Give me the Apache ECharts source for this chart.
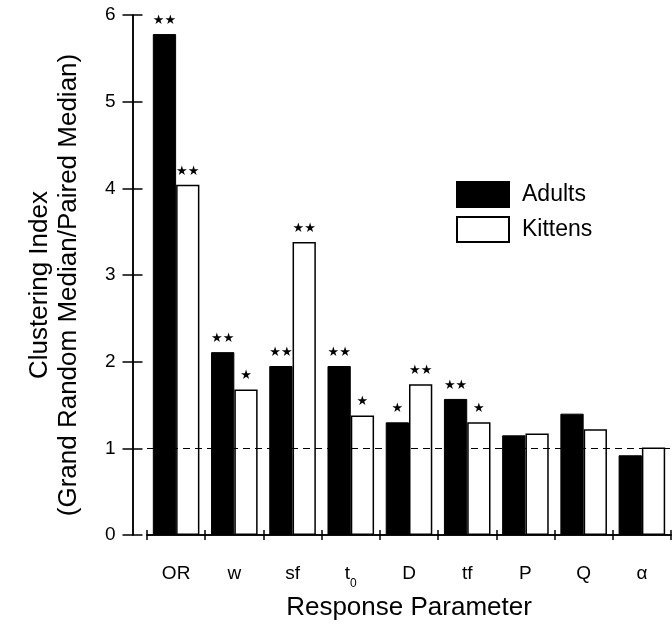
<!DOCTYPE html>
<html>
<head>
<meta charset="utf-8">
<script src="https://cdn.jsdelivr.net/npm/echarts@6/dist/echarts.min.js"></script>
<style>html,body{margin:0;padding:0;background:#fff;}#chart{width:672px;height:631px;}</style>
</head>
<body>
<div id="chart"></div>
<script>
const categories = ['OR', 'w', 'sf', 't0', 'D', 'tf', 'P', 'Q', 'α'];
const adults = [5.78, 2.11, 1.95, 1.95, 1.30, 1.57, 1.15, 1.40, 0.92];
const kittens = [4.04, 1.68, 3.38, 1.38, 1.74, 1.30, 1.17, 1.22, 1.01];
const adultSig = ['**', '**', '**', '**', '*', '**', '', '', ''];
const kittenSig = ['**', '*', '**', '*', '**', '*', '', '', ''];
const yTicks = [0, 1, 2, 3, 4, 5, 6];
const referenceLevel = 1;

const FONT = '"Liberation Sans", Arial, Helvetica, sans-serif';
const starLabel = (sig) => (p) => sig[p.dataIndex].replace(/\*/g, '★');

const chart = echarts.init(document.getElementById('chart'), null, {renderer: 'canvas'});
const yAxisBase = {
  type: 'value', min: yTicks[0], max: yTicks[yTicks.length - 1], interval: 1,
  position: 'left', offset: 14.5,
  splitLine: {show: false},
  axisLine: {show: true, lineStyle: {color: '#000', width: 1.5}},
};
const xAxisBase = {
  type: 'category', data: categories, boundaryGap: true, position: 'bottom',
  splitLine: {show: false},
};
chart.setOption({
  animation: false,
  backgroundColor: '#fff',
  textStyle: {fontFamily: FONT, color: '#000'},
  grid: {left: 147, right: 1, top: 15, bottom: 96, containLabel: false},
  legend: {
    left: 456, top: 181, padding: 0, orient: 'vertical', itemWidth: 52, itemHeight: 25, itemGap: 8,
    icon: 'rect',
    textStyle: {fontFamily: FONT, fontSize: 23, color: '#000', padding: [0, 0, 0, 8]},
    data: ['Adults', 'Kittens']
  },
  xAxis: [
    Object.assign({}, xAxisBase, {
      offset: 14.5,
      axisLine: {show: true, lineStyle: {color: '#000', width: 1.5}},
      axisTick: {show: true, interval: 0, inside: false, length: 5, lineStyle: {color: '#000', width: 1.5}},
      axisLabel: {
        show: true, interval: 0, margin: 18, fontSize: 19, fontFamily: FONT, color: '#000',
        formatter: (v) => v === 't0' ? '{m|t}{sub|0}' : '{m|' + v + '}',
        rich: {
          m: {fontSize: 19, lineHeight: 19, fontFamily: FONT, color: '#000', padding: [0, 0, 7, 0]},
          sub: {fontSize: 12, lineHeight: 12, fontFamily: FONT, color: '#000', padding: [14, 0, 0, 0]}
        }
      },
      name: 'Response Parameter', nameLocation: 'middle', nameGap: 44,
      nameTextStyle: {fontSize: 26, fontFamily: FONT, color: '#000'}
    }),
    Object.assign({}, xAxisBase, {
      offset: 14.5,
      axisLine: {show: false},
      axisTick: {show: true, interval: 0, inside: true, length: 5, lineStyle: {color: '#000', width: 1.5}},
      axisLabel: {show: false}
    }),
    Object.assign({}, xAxisBase, {
      offset: 0,
      axisLine: {show: true, lineStyle: {color: '#000', width: 1.5}},
      axisTick: {show: false},
      axisLabel: {show: false}
    })
  ],
  yAxis: [
    Object.assign({}, yAxisBase, {
      axisTick: {show: true, inside: false, length: 10, lineStyle: {color: '#000', width: 1.5}},
      axisLabel: {show: true, margin: 17, fontSize: 19, fontFamily: FONT, color: '#000'},
      name: 'Clustering Index\n(Grand Random Median/Paired Median)',
      nameLocation: 'middle', nameRotate: 90, nameGap: 49,
      nameTextStyle: {fontSize: 26, lineHeight: 29, fontFamily: FONT, color: '#000', padding: [0, 20, 0, 0]}
    }),
    Object.assign({}, yAxisBase, {
      axisTick: {show: true, inside: true, length: 10, lineStyle: {color: '#000', width: 1.5}},
      axisLabel: {show: false}
    })
  ],
  series: [
    {
      name: 'Adults', type: 'bar', xAxisIndex: 0, yAxisIndex: 0,
      data: adults, barGap: '0%', barCategoryGap: '20%',
      itemStyle: {color: '#000', borderColor: '#000', borderWidth: 1},
      label: {show: true, position: 'top', distance: 7, formatter: starLabel(adultSig),
        fontFamily: '"DejaVu Sans", sans-serif', fontSize: 13, color: '#000'},
      markLine: {
        silent: true, symbol: 'none', label: {show: false},
        lineStyle: {color: '#000', type: [7, 5], width: 1.2},
        data: [{yAxis: referenceLevel}]
      },
      z: 3
    },
    {
      name: 'Kittens', type: 'bar', xAxisIndex: 0, yAxisIndex: 0,
      data: kittens, barGap: '0%', barCategoryGap: '20%',
      itemStyle: {color: '#fff', borderColor: '#000', borderWidth: 1.5},
      label: {show: true, position: 'top', distance: 7, formatter: starLabel(kittenSig),
        fontFamily: '"DejaVu Sans", sans-serif', fontSize: 13, color: '#000'},
      z: 2
    }
  ]
});
</script>
</body>
</html>
